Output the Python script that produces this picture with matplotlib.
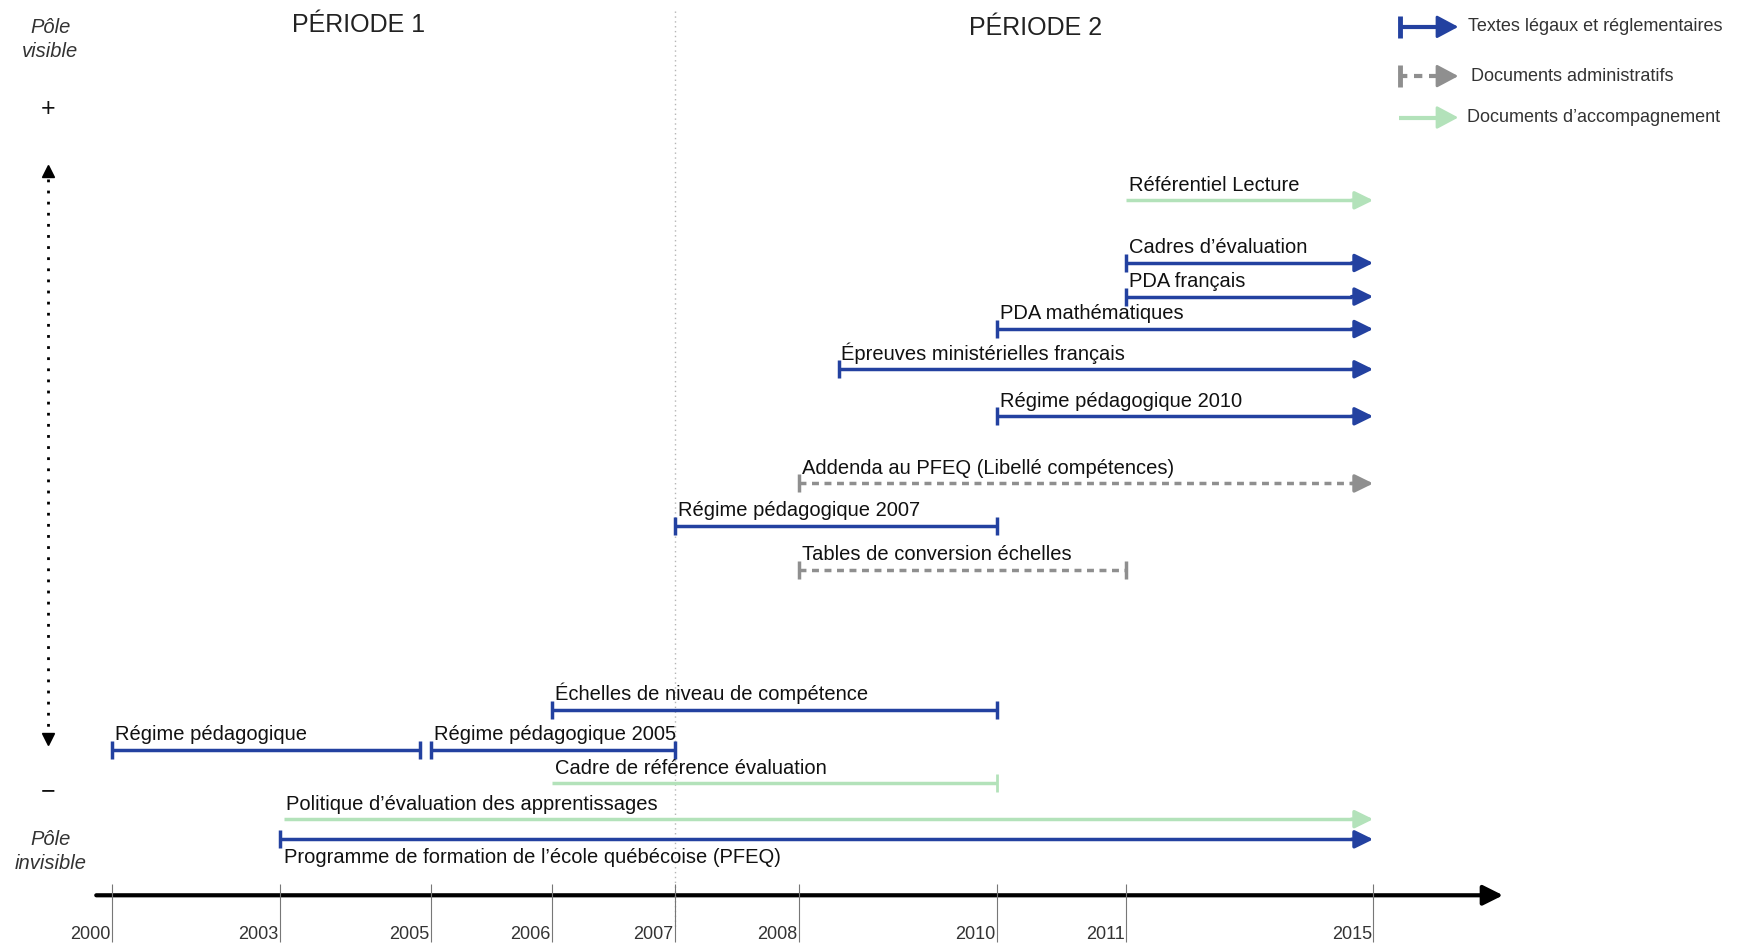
import numpy as np
import matplotlib.pyplot as plt

plt.rcParams['font.family'] = ['Liberation Sans', 'DejaVu Sans']

# years shown on the time axis (the axis is not linear, see tick_px below)
tick_years = [2000, 2003, 2005, 2006, 2007, 2008, 2010, 2011, 2015]

# documents: label, first year, last year, kind, still in force
labels = [
    "Référentiel Lecture",
    "Cadres d’évaluation",
    "PDA français",
    "PDA mathématiques",
    "Épreuves ministérielles français",
    "Régime pédagogique 2010",
    "Addenda au PFEQ (Libellé compétences)",
    "Régime pédagogique 2007",
    "Tables de conversion échelles",
    "Échelles de niveau de compétence",
    "Régime pédagogique",
    "Régime pédagogique 2005",
    "Cadre de référence évaluation",
    "Politique d’évaluation des apprentissages",
    "Programme de formation de l’école québécoise (PFEQ)",
]
starts = [2011, 2011, 2011, 2010, 2008.4, 2010, 2008, 2007, 2008, 2006,
          2000, 2005, 2006, 2003.05, 2003]
ends = [2015, 2015, 2015, 2015, 2015, 2015, 2015, 2010, 2011, 2010,
        2004.85, 2007, 2010, 2015, 2015]
kinds = ["accomp", "legal", "legal", "legal", "legal", "legal", "admin", "legal",
         "admin", "legal", "legal", "legal", "accomp", "accomp", "legal"]
ongoing = [True, True, True, True, True, True, True, False, False, False,
           False, False, False, True, True]

legend_names = {
    "legal": "Textes légaux et réglementaires",
    "admin": "Documents administratifs",
    "accomp": "Documents d’accompagnement",
}

# layout (canvas units, y from top)
W, H = 1569, 848
tick_px = [100, 250, 385, 493, 603, 714, 891, 1006, 1227]
row_y = [179, 235, 265, 294, 330, 372, 432, 470, 509, 634, 670, 670, 700, 732, 750]
axis_y = 800

colors = {"legal": "#2341a0", "admin": "#8f8f8f", "accomp": "#b3e2ba"}

# piecewise mapping year -> canvas x, extended linearly at both ends
yrs_ext = [1980] + tick_years + [2040]
px_ext = [100 - 20 * 50] + tick_px + [1227 + 25 * 55.25]


def fwd(x):
    return np.interp(x, yrs_ext, px_ext)


def inv(p):
    return np.interp(p, px_ext, yrs_ext)


fig = plt.figure(figsize=(17.56, 9.49), dpi=100)

# canvas axes for decorations
ax2 = fig.add_axes([0, 0, 1, 1])
ax2.set_xlim(0, W)
ax2.set_ylim(H, 0)
ax2.axis('off')

# timeline axes (years)
ax = fig.add_axes([0, 0, 1, 1])
ax.set_xscale('function', functions=(fwd, inv))
ax.set_xlim(inv(0), inv(W))
ax.set_ylim(H, 0)
ax.patch.set_alpha(0)
ax.axis('off')


def draw_item(a, x0, x1, y, kind, arrow, tip=0.35, lw=2.5, cap=13):
    col = colors[kind]
    ls = (0, (2, 1.6)) if kind == "admin" else '-'
    xend = x1 - tip if arrow else x1
    a.plot([x0, xend], [y, y], color=col, lw=lw, ls=ls, solid_capstyle='butt',
           zorder=3)
    if kind != "accomp":
        a.plot(x0, y, marker='|', ms=cap, mew=lw, color=col, zorder=3)
    if arrow:
        a.annotate('', xy=(x1, y), xytext=(xend, y),
                   arrowprops=dict(arrowstyle='-|>,head_length=0.55,head_width=0.27',
                                   color=col, lw=lw, shrinkA=0, shrinkB=0,
                                   mutation_scale=20), zorder=3)
    else:
        a.plot(x1, y, marker='|', ms=cap, mew=lw * 0.8 if kind == "accomp" else lw,
               color=col, zorder=3)


# period separator
ax.plot([2007, 2007], [10, 830], ls=(0, (1, 2.5)), color='#b5b5b5', lw=1, zorder=1)

# documents
for lab, s, e, k, og, y in zip(labels, starts, ends, kinds, ongoing, row_y):
    draw_item(ax, s, e, y, k, og)
    if lab.startswith("Programme"):
        ax.annotate(lab, xy=(s, y), xytext=(3, -6), textcoords='offset points',
                    ha='left', va='top', fontsize=14.5, color='#111')
    else:
        ax.annotate(lab, xy=(s, y), xytext=(2, 4), textcoords='offset points',
                    ha='left', va='bottom', fontsize=14.5, color='#111')

# time axis
ax2.annotate('', xy=(1343, axis_y), xytext=(86, axis_y),
             arrowprops=dict(arrowstyle='-|>,head_length=0.6,head_width=0.3',
                             color='black', lw=3, shrinkA=0, shrinkB=0,
                             mutation_scale=20), zorder=4)
ax.vlines(tick_years, axis_y - 10, 842, color='#777777', lw=0.8, zorder=2)
for yr in tick_years:
    ax.annotate(str(yr), xy=(yr, 835), xytext=(-1, 0), textcoords='offset points',
                ha='right', va='center', fontsize=13, color='#333')

# period titles
ax2.text(320, 22, "PÉRIODE 1", ha='center', va='center', fontsize=18, color='#222')
ax2.text(925, 25, "PÉRIODE 2", ha='center', va='center', fontsize=18, color='#222')

# visibility pole scale on the left
ax2.text(45, 35, "Pôle\nvisible", ha='center', va='center', fontsize=14.5,
         style='italic', color='#333', linespacing=1.35)
ax2.text(45, 761, "Pôle\ninvisible", ha='center', va='center', fontsize=14.5,
         style='italic', color='#333', linespacing=1.35)
ax2.text(43, 97, "+", ha='center', va='center', fontsize=18, color='#111')
ax2.text(43, 707, "−", ha='center', va='center', fontsize=18, color='#111')
ax2.plot([43, 43], [160, 652], ls=(0, (1, 3)), color='black', lw=2)
ax2.plot(43, 153, marker='^', ms=9, color='black')
ax2.plot(43, 660, marker='v', ms=9, color='black')

# legend
leg_y = {"legal": 24, "admin": 68, "accomp": 105}
leg_tx = {"legal": 1312, "admin": 1314, "accomp": 1311}
for k in ["legal", "admin", "accomp"]:
    y = leg_y[k]
    col = colors[k]
    ls = (0, (2, 1.6)) if k == "admin" else '-'
    ax2.plot([1250, 1288], [y, y], color=col, lw=3, ls=ls, solid_capstyle='butt')
    if k != "accomp":
        ax2.plot(1251, y, marker='|', ms=16, mew=3.5, color=col)
    ax2.annotate('', xy=(1303, y), xytext=(1286, y),
                 arrowprops=dict(arrowstyle='-|>,head_length=0.6,head_width=0.32',
                                 color=col, lw=2, shrinkA=0, shrinkB=0,
                                 mutation_scale=22))
    ax2.text(leg_tx[k], y, legend_names[k], ha='left', va='center', fontsize=13,
             color='#333')

fig.savefig("out.png", dpi=100, facecolor='white')
